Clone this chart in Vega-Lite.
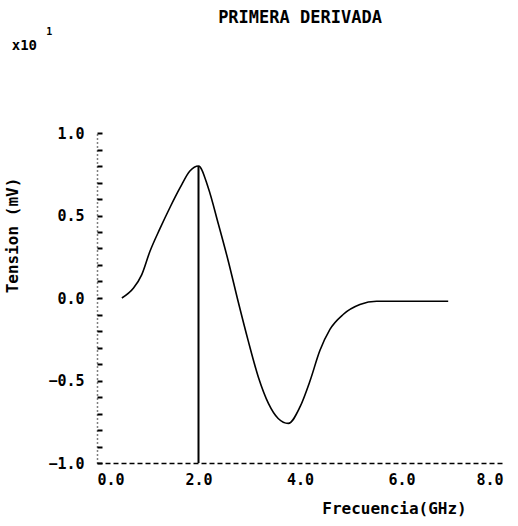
{
  "$schema": "https://vega.github.io/schema/vega-lite/v6.json",
  "width": 406,
  "height": 330,
  "autosize": "none",
  "padding": {"left": 97, "top": 133, "right": 15, "bottom": 63},
  "background": "white",
  "title": {
    "text": "PRIMERA DERIVADA",
    "anchor": "middle",
    "frame": "group",
    "font": "DejaVu Sans Mono",
    "fontWeight": "bold",
    "fontSize": 17,
    "color": "black",
    "offset": 0
  },
  "config": {
    "view": {"stroke": null},
    "axis": {
      "labelFont": "DejaVu Sans Mono",
      "labelFontWeight": "bold",
      "labelFontSize": 15,
      "labelColor": "black",
      "titleFont": "DejaVu Sans Mono",
      "titleFontWeight": "bold",
      "titleColor": "black",
      "domainColor": "black",
      "tickColor": "black",
      "grid": false
    }
  },
  "datasets": {
    "curve": [
      {"f": 0.49, "v": 0.0},
      {"f": 0.72, "v": 0.06},
      {"f": 0.88, "v": 0.14},
      {"f": 1.04, "v": 0.28},
      {"f": 1.24, "v": 0.42},
      {"f": 1.44, "v": 0.55},
      {"f": 1.64, "v": 0.67},
      {"f": 1.83, "v": 0.77},
      {"f": 2.0, "v": 0.80},
      {"f": 2.19, "v": 0.67},
      {"f": 2.39, "v": 0.45},
      {"f": 2.59, "v": 0.22},
      {"f": 2.78, "v": -0.02},
      {"f": 2.98, "v": -0.26},
      {"f": 3.18, "v": -0.48},
      {"f": 3.38, "v": -0.64},
      {"f": 3.57, "v": -0.73},
      {"f": 3.77, "v": -0.76},
      {"f": 4.0, "v": -0.66},
      {"f": 4.2, "v": -0.50},
      {"f": 4.39, "v": -0.32},
      {"f": 4.59, "v": -0.19},
      {"f": 4.85, "v": -0.10},
      {"f": 5.18, "v": -0.04},
      {"f": 5.51, "v": -0.02},
      {"f": 6.23, "v": -0.02},
      {"f": 6.92, "v": -0.02}
    ],
    "marker": [{"f": 2.0, "lo": -1.0, "hi": 0.80}],
    "mult": [{"label": "x10", "sup": "1", "fx": -1.68, "vy": 1.53, "sx": -1.0, "sy": 1.61}]
  },
  "layer": [
    {
      "data": {"name": "curve"},
      "mark": {"type": "line", "color": "black", "strokeWidth": 1.6, "interpolate": "monotone"},
      "encoding": {
        "x": {
          "field": "f", "type": "quantitative",
          "scale": {"domain": [0, 8], "nice": false},
          "axis": {
            "values": [0, 2, 4, 6, 8],
            "format": ".1f",
            "title": "Frecuencia(GHz)",
            "titleFontSize": 16,
            "titleX": 297,
            "titleY": 45,
            "titleAnchor": "middle",
            "titleBaseline": "middle",
            "domainDash": [5, 3],
            "domainWidth": 1.5,
            "ticks": false,
            "labelPadding": 9,
            "labelOverlap": false
          }
        },
        "y": {
          "field": "v", "type": "quantitative",
          "scale": {"domain": [-1, 1], "nice": false},
          "axis": {
            "values": [-1, -0.9, -0.8, -0.7, -0.6, -0.5, -0.4, -0.3, -0.2, -0.1, 0, 0.1, 0.2, 0.3, 0.4, 0.5, 0.6, 0.7, 0.8, 0.9, 1],
            "tickCount": 30,
            "labelExpr": "abs(datum.value * 2 - round(datum.value * 2)) < 0.001 ? format(datum.value, '.1f') : ''",
            "labelOverlap": false,
            "title": "Tension  (mV)",
            "titleFontSize": 16,
            "titleX": -85,
            "titleY": 102,
            "titleAnchor": "middle",
            "titleBaseline": "middle",
            "domainDash": [1, 3],
            "domainWidth": 1.5,
            "tickSize": -5,
            "tickWidth": 2,
            "labelPadding": 18
          }
        }
      }
    },
    {
      "data": {"name": "marker"},
      "mark": {"type": "rule", "color": "black", "strokeWidth": 2},
      "encoding": {
        "x": {"field": "f", "type": "quantitative"},
        "y": {"field": "lo", "type": "quantitative"},
        "y2": {"field": "hi"}
      }
    },
    {
      "data": {"name": "mult"},
      "mark": {"type": "text", "font": "DejaVu Sans Mono", "fontWeight": "bold", "fontSize": 14, "align": "left", "baseline": "middle", "clip": false, "color": "black"},
      "encoding": {
        "x": {"field": "fx", "type": "quantitative"},
        "y": {"field": "vy", "type": "quantitative"},
        "text": {"field": "label"}
      }
    },
    {
      "data": {"name": "mult"},
      "mark": {"type": "text", "font": "DejaVu Sans Mono", "fontWeight": "bold", "fontSize": 10, "align": "left", "baseline": "middle", "clip": false, "color": "black"},
      "encoding": {
        "x": {"field": "sx", "type": "quantitative"},
        "y": {"field": "sy", "type": "quantitative"},
        "text": {"field": "sup"}
      }
    }
  ]
}
